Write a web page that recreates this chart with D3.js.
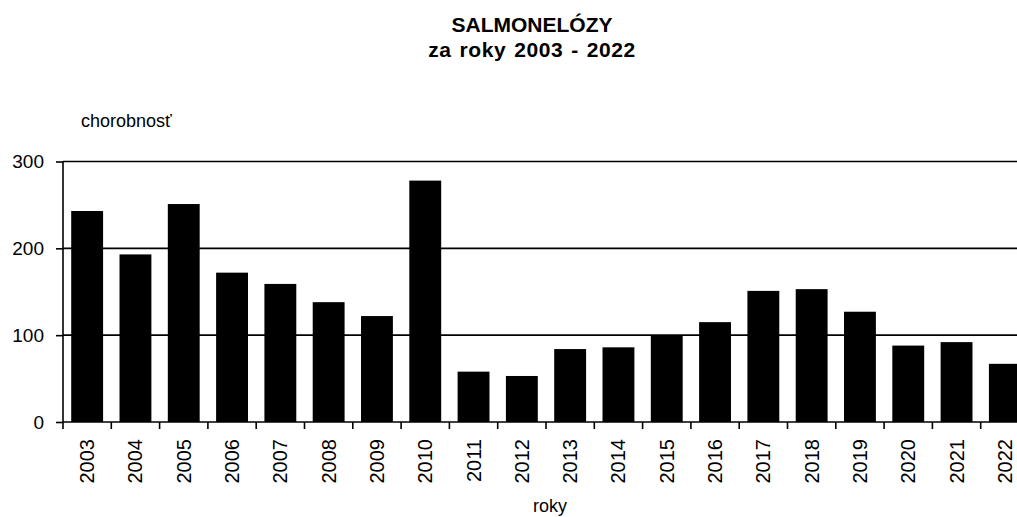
<!DOCTYPE html>
<html>
<head>
<meta charset="utf-8">
<script src="https://cdn.jsdelivr.net/npm/d3@7"></script>
<style>
  body { margin: 0; background: #fff; }
  svg { display: block; font-family: "Liberation Sans", Arial, sans-serif; }
</style>
</head>
<body>
<svg width="1017" height="517"></svg>
<script>
var roky = ["2003", "2004", "2005", "2006", "2007", "2008", "2009", "2010", "2011", "2012",
  "2013", "2014", "2015", "2016", "2017", "2018", "2019", "2020", "2021", "2022"];
var chorobnost = [243, 193, 251, 172, 159, 138, 122, 278, 58, 53,
  84, 86, 100, 115, 151, 153, 127, 88, 92, 67];
var yTicks = [0, 100, 200, 300];

var svg = d3.select("svg");
var margin = {left: 63, top: 161.5, right: -12, bottom: 95};
var width = 1017 - margin.left - margin.right,
  height = 517 - margin.top - margin.bottom;

var x = d3.scaleBand().domain(roky).range([0, width]).paddingInner(0.34).paddingOuter(0.17);
var y = d3.scaleLinear().domain([0, 300]).range([height, 0]);

var g = svg.append("g").attr("transform", "translate(" + margin.left + "," + margin.top + ")");

// mriezka
g.selectAll(".grid")
  .data(yTicks.slice(1))
  .enter().append("line")
  .attr("x1", 0).attr("x2", width)
  .attr("y1", function(d) { return y(d); })
  .attr("y2", function(d) { return y(d); })
  .attr("stroke", "#000")
  .attr("stroke-width", 1.6);

// stlpce
g.selectAll(".bar")
  .data(chorobnost)
  .enter().append("rect")
  .attr("x", function(d, i) { return x(roky[i]); })
  .attr("y", function(d) { return y(d); })
  .attr("width", x.bandwidth())
  .attr("height", function(d) { return height - y(d); })
  .attr("fill", "#000");

// os y
var yAxis = g.append("g")
  .call(d3.axisLeft(y).tickValues(yTicks).tickSize(7).tickPadding(12));
yAxis.select(".domain").attr("stroke-width", 1.6).attr("d", "M0," + height + "V0");
yAxis.selectAll(".tick line").attr("stroke-width", 1.6);
yAxis.selectAll("text").style("font-size", "19px").attr("fill", "#000");

// os x
var xStep = x.step();
var hranice = d3.range(roky.length + 1).map(function(i) { return i * xStep; });
g.append("line")
  .attr("x1", 0).attr("x2", width)
  .attr("y1", height).attr("y2", height)
  .attr("stroke", "#000").attr("stroke-width", 1.6);
g.selectAll(".xtick")
  .data(hranice)
  .enter().append("line")
  .attr("x1", function(d) { return d; }).attr("x2", function(d) { return d; })
  .attr("y1", height).attr("y2", height + 7)
  .attr("stroke", "#000").attr("stroke-width", 1.6);

g.selectAll(".xlabel")
  .data(roky)
  .enter().append("text")
  .attr("transform", function(d) {
    return "translate(" + (x(d) + x.bandwidth() / 2) + "," + (height + 17) + ") rotate(-90)";
  })
  .attr("text-anchor", "end")
  .attr("dy", "0.35em")
  .style("font-size", "20px")
  .text(function(d) { return d; });

// nadpisy
svg.append("text")
  .attr("x", 532).attr("y", 32)
  .attr("text-anchor", "middle")
  .style("font-size", "21px").style("font-weight", "bold")
  .text("SALMONELÓZY");
svg.append("text")
  .attr("x", 532).attr("y", 57)
  .attr("text-anchor", "middle")
  .style("font-size", "21px").style("font-weight", "bold")
  .style("letter-spacing", "0.6px")
  .style("word-spacing", "1.5px")
  .text("za roky 2003 - 2022");

svg.append("text")
  .attr("x", 81).attr("y", 127)
  .style("font-size", "18px")
  .text("chorobnosť");

svg.append("text")
  .attr("x", 550).attr("y", 512)
  .attr("text-anchor", "middle")
  .style("font-size", "18px")
  .text("roky");
</script>
</body>
</html>
